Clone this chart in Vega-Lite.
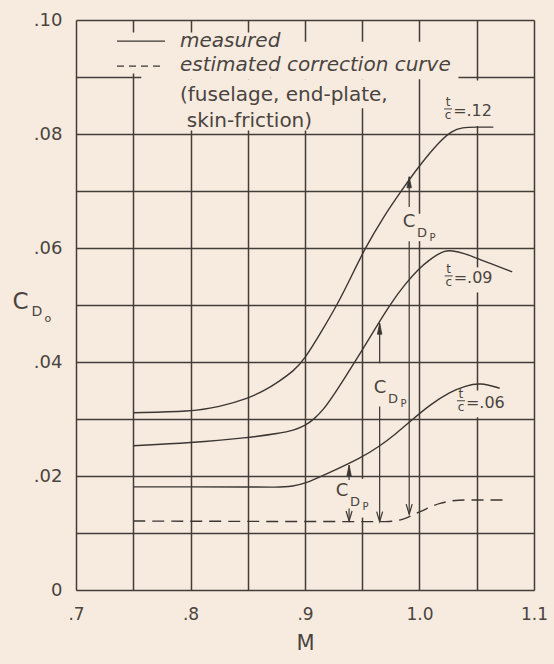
{
  "$schema": "https://vega.github.io/schema/vega-lite/v6.json",
  "width": 458,
  "height": 570,
  "autosize": {"type": "none"},
  "padding": {"left": 76, "top": 20, "right": 20, "bottom": 74},
  "background": "#f7ebdf",
  "config": {
    "view": {"stroke": null},
    "font": "DejaVu Sans",
    "text": {"color": "#4a4440", "font": "DejaVu Sans"}
  },
  "datasets": {
    "masks": [
      {"M": 0.744, "M2": 0.757, "C": 0.0906, "C2": 0.0978},
      {"M": 0.757, "M2": 0.87, "C": 0.0896, "C2": 0.0978},
      {"M": 0.87, "M2": 1.034, "C": 0.0896, "C2": 0.0962},
      {"M": 0.757, "M2": 0.93, "C": 0.0806, "C2": 0.0896},
      {"M": 0.93, "M2": 0.99, "C": 0.0845, "C2": 0.0896},
      {"M": 1.04, "M2": 1.06, "C": 0.0814, "C2": 0.0894},
      {"M": 1.045, "M2": 1.055, "C": 0.0522, "C2": 0.0566},
      {"M": 1.045, "M2": 1.055, "C": 0.0303, "C2": 0.035},
      {"M": 0.945, "M2": 0.955, "C": 0.0127, "C2": 0.0195},
      {"M": 0.996, "M2": 1.004, "C": 0.0612, "C2": 0.066}
    ],
    "curves": [
      {"series": "t/c=.12", "M": 0.75, "C": 0.0311},
      {"series": "t/c=.12", "M": 0.8, "C": 0.0313},
      {"series": "t/c=.12", "M": 0.825, "C": 0.0321},
      {"series": "t/c=.12", "M": 0.85, "C": 0.0336},
      {"series": "t/c=.12", "M": 0.865, "C": 0.035},
      {"series": "t/c=.12", "M": 0.878, "C": 0.0367},
      {"series": "t/c=.12", "M": 0.89, "C": 0.0384},
      {"series": "t/c=.12", "M": 0.9, "C": 0.0406},
      {"series": "t/c=.12", "M": 0.914, "C": 0.0452},
      {"series": "t/c=.12", "M": 0.928, "C": 0.05},
      {"series": "t/c=.12", "M": 0.94, "C": 0.0548},
      {"series": "t/c=.12", "M": 0.952, "C": 0.0598},
      {"series": "t/c=.12", "M": 0.968, "C": 0.0653},
      {"series": "t/c=.12", "M": 0.984, "C": 0.07},
      {"series": "t/c=.12", "M": 1.0, "C": 0.0745},
      {"series": "t/c=.12", "M": 1.018, "C": 0.0788},
      {"series": "t/c=.12", "M": 1.028, "C": 0.0805},
      {"series": "t/c=.12", "M": 1.037, "C": 0.0812},
      {"series": "t/c=.12", "M": 1.05, "C": 0.0812},
      {"series": "t/c=.12", "M": 1.0645, "C": 0.0812},
      {"series": "t/c=.09", "M": 0.75, "C": 0.0253},
      {"series": "t/c=.09", "M": 0.8, "C": 0.0258},
      {"series": "t/c=.09", "M": 0.85, "C": 0.0267},
      {"series": "t/c=.09", "M": 0.878, "C": 0.0275},
      {"series": "t/c=.09", "M": 0.89, "C": 0.028},
      {"series": "t/c=.09", "M": 0.9, "C": 0.0288},
      {"series": "t/c=.09", "M": 0.908, "C": 0.03},
      {"series": "t/c=.09", "M": 0.916, "C": 0.0316},
      {"series": "t/c=.09", "M": 0.925, "C": 0.0342},
      {"series": "t/c=.09", "M": 0.935, "C": 0.0373},
      {"series": "t/c=.09", "M": 0.95, "C": 0.0421},
      {"series": "t/c=.09", "M": 0.962, "C": 0.0461},
      {"series": "t/c=.09", "M": 0.974, "C": 0.05},
      {"series": "t/c=.09", "M": 0.987, "C": 0.0536},
      {"series": "t/c=.09", "M": 1.0, "C": 0.0565},
      {"series": "t/c=.09", "M": 1.008, "C": 0.0578},
      {"series": "t/c=.09", "M": 1.015, "C": 0.0588},
      {"series": "t/c=.09", "M": 1.022, "C": 0.0595},
      {"series": "t/c=.09", "M": 1.028, "C": 0.0596},
      {"series": "t/c=.09", "M": 1.04, "C": 0.059},
      {"series": "t/c=.09", "M": 1.05, "C": 0.0582},
      {"series": "t/c=.09", "M": 1.081, "C": 0.0558},
      {"series": "t/c=.06", "M": 0.75, "C": 0.0181},
      {"series": "t/c=.06", "M": 0.8, "C": 0.0181},
      {"series": "t/c=.06", "M": 0.85, "C": 0.0181},
      {"series": "t/c=.06", "M": 0.875, "C": 0.018},
      {"series": "t/c=.06", "M": 0.89, "C": 0.0182},
      {"series": "t/c=.06", "M": 0.9, "C": 0.0187},
      {"series": "t/c=.06", "M": 0.915, "C": 0.02},
      {"series": "t/c=.06", "M": 0.95, "C": 0.0233},
      {"series": "t/c=.06", "M": 0.965, "C": 0.0252},
      {"series": "t/c=.06", "M": 0.98, "C": 0.0275},
      {"series": "t/c=.06", "M": 0.992, "C": 0.0296},
      {"series": "t/c=.06", "M": 1.009, "C": 0.0325},
      {"series": "t/c=.06", "M": 1.027, "C": 0.0348},
      {"series": "t/c=.06", "M": 1.04, "C": 0.0358},
      {"series": "t/c=.06", "M": 1.053, "C": 0.0364},
      {"series": "t/c=.06", "M": 1.07, "C": 0.0354}
    ],
    "correction": [
      {"M": 0.75, "C": 0.0121},
      {"M": 0.97, "C": 0.012},
      {"M": 0.985, "C": 0.0124},
      {"M": 1.0, "C": 0.0137},
      {"M": 1.018, "C": 0.0152},
      {"M": 1.04, "C": 0.0158},
      {"M": 1.075, "C": 0.0158}
    ],
    "arrows": [
      {"M": 0.991, "C": 0.0725, "C2": 0.0672},
      {"M": 0.991, "C": 0.0612, "C2": 0.0133},
      {"M": 0.9652, "C": 0.0468, "C2": 0.0398},
      {"M": 0.9652, "C": 0.0322, "C2": 0.012},
      {"M": 0.9385, "C": 0.0219, "C2": 0.0193},
      {"M": 0.9385, "C": 0.0143, "C2": 0.0121}
    ],
    "headsUp": [
      {"M": 0.991, "C": 0.0725},
      {"M": 0.9652, "C": 0.0468},
      {"M": 0.9385, "C": 0.0219}
    ],
    "headsDown": [
      {"M": 0.991, "C": 0.0133},
      {"M": 0.9652, "C": 0.012},
      {"M": 0.9385, "C": 0.0121}
    ],
    "cdp": [
      {"M": 0.9908, "C": 0.0646},
      {"M": 0.9655, "C": 0.0355},
      {"M": 0.9323, "C": 0.0174}
    ],
    "cd0": [{"M": 0.6515, "C": 0.0506}],
    "tc": [
      {"M": 1.025, "C": 0.0844, "val": "=.12"},
      {"M": 1.0255, "C": 0.0551, "val": "=.09"},
      {"M": 1.0362, "C": 0.0332, "val": "=.06"}
    ],
    "legendSolid": [{"M": 0.7358, "M2": 0.7777, "C": 0.0963}],
    "legendDashed": [{"M": 0.7358, "M2": 0.7734, "C": 0.0919}],
    "legendItalic": [
      {"M": 0.7908, "C": 0.0963, "text": "measured"},
      {"M": 0.7908, "C": 0.0921, "text": "estimated correction curve"}
    ],
    "legendPlain": [
      {"M": 0.7908, "C": 0.0869, "text": "(fuselage, end-plate,"},
      {"M": 0.7967, "C": 0.0823, "text": "skin-friction)"}
    ]
  },
  "encoding": {
    "x": {
      "field": "M",
      "type": "quantitative",
      "scale": {"domain": [0.7, 1.1], "zero": false, "nice": false},
      "axis": {
        "values": [0.7, 0.75, 0.8, 0.85, 0.9, 0.95, 1.0, 1.05, 1.1],
        "labelExpr": "round(datum.value*100) % 10 != 0 ? '' : (datum.value < 0.95 ? '.' + round(datum.value*10) : format(datum.value, '.1f'))",
        "grid": true,
        "gridColor": "#433d3a",
        "gridWidth": 1.5,
        "gridOpacity": 1,
        "ticks": false,
        "domain": false,
        "title": "M",
        "labelPadding": 16,
        "titlePadding": 10,
        "labelFontSize": 17,
        "titleFontSize": 21,
        "titleFontWeight": "normal",
        "labelColor": "#4a4440",
        "titleColor": "#4a4440",
        "labelFlush": false,
        "labelOverlap": false
      }
    },
    "y": {
      "field": "C",
      "type": "quantitative",
      "scale": {"domain": [0, 0.1], "zero": false, "nice": false},
      "axis": {
        "values": [0, 0.01, 0.02, 0.03, 0.04, 0.05, 0.06, 0.07, 0.08, 0.09, 0.1],
        "labelExpr": "round(datum.value*100) % 2 != 0 ? '' : (datum.value == 0 ? '0' : (round(datum.value*100) < 10 ? '.0' + round(datum.value*100) : '.' + round(datum.value*100)))",
        "grid": true,
        "gridColor": "#433d3a",
        "gridWidth": 1.5,
        "gridOpacity": 1,
        "ticks": false,
        "domain": false,
        "title": null,
        "labelPadding": 14,
        "labelFontSize": 18,
        "labelColor": "#4a4440",
        "labelFlush": false,
        "labelOverlap": false
      }
    }
  },
  "layer": [
    {
      "data": {"name": "masks"},
      "mark": {"type": "rect", "fill": "#f7ebdf", "strokeWidth": 0},
      "encoding": {"x2": {"field": "M2"}, "y2": {"field": "C2"}}
    },
    {
      "data": {"name": "curves"},
      "mark": {"type": "line", "interpolate": "basis", "color": "#3b3633", "strokeWidth": 1.4},
      "encoding": {"detail": {"field": "series"}}
    },
    {
      "data": {"name": "correction"},
      "mark": {"type": "line", "interpolate": "monotone", "color": "#3b3633", "strokeWidth": 1.4, "strokeDash": [12, 7]},
      "encoding": {}
    },
    {
      "data": {"name": "arrows"},
      "mark": {"type": "rule", "color": "#3b3633", "strokeWidth": 1.2},
      "encoding": {"y2": {"field": "C2"}}
    },
    {
      "data": {"name": "headsUp"},
      "mark": {"type": "point", "shape": "M-0.45,2.2L0,0L0.45,2.2Z", "size": 100, "filled": true, "color": "#3b3633", "opacity": 1, "stroke": "#3b3633", "strokeWidth": 0.8}
    },
    {
      "data": {"name": "headsDown"},
      "mark": {"type": "point", "shape": "M-0.6,-2L0,0L0.6,-2", "size": 100, "filled": false, "color": "#3b3633", "opacity": 1, "strokeWidth": 1.2}
    },
    {
      "data": {"name": "legendSolid"},
      "mark": {"type": "rule", "color": "#3b3633", "strokeWidth": 1.4},
      "encoding": {"x2": {"field": "M2"}}
    },
    {
      "data": {"name": "legendDashed"},
      "mark": {"type": "rule", "color": "#3b3633", "strokeWidth": 1.4, "strokeDash": [7, 5]},
      "encoding": {"x2": {"field": "M2"}}
    },
    {
      "data": {"name": "legendItalic"},
      "mark": {"type": "text", "align": "left", "baseline": "middle", "fontSize": 20, "fontStyle": "italic"},
      "encoding": {"text": {"field": "text"}}
    },
    {
      "data": {"name": "legendPlain"},
      "mark": {"type": "text", "align": "left", "baseline": "middle", "fontSize": 20},
      "encoding": {"text": {"field": "text"}}
    },
    {
      "data": {"name": "cdp"},
      "mark": {"type": "text", "text": "C", "align": "center", "baseline": "middle", "fontSize": 18}
    },
    {
      "data": {"name": "cdp"},
      "mark": {"type": "text", "text": "D", "align": "center", "baseline": "middle", "fontSize": 13, "dx": 13, "dy": 11}
    },
    {
      "data": {"name": "cdp"},
      "mark": {"type": "text", "text": "P", "align": "center", "baseline": "middle", "fontSize": 10, "dx": 23.5, "dy": 16}
    },
    {
      "data": {"name": "cd0"},
      "mark": {"type": "text", "text": "C", "align": "center", "baseline": "middle", "fontSize": 23}
    },
    {
      "data": {"name": "cd0"},
      "mark": {"type": "text", "text": "D", "align": "center", "baseline": "middle", "fontSize": 14, "dx": 16.5, "dy": 10.5}
    },
    {
      "data": {"name": "cd0"},
      "mark": {"type": "text", "text": "o", "align": "center", "baseline": "middle", "fontSize": 11, "dx": 27.5, "dy": 17.5}
    },
    {
      "data": {"name": "tc"},
      "mark": {"type": "text", "text": "t", "align": "center", "baseline": "middle", "fontSize": 12, "dy": -6.5}
    },
    {
      "data": {"name": "tc"},
      "mark": {"type": "text", "text": "c", "align": "center", "baseline": "middle", "fontSize": 12, "dy": 6.5}
    },
    {
      "data": {"name": "tc"},
      "mark": {"type": "tick", "orient": "horizontal", "size": 8, "thickness": 1, "color": "#4a4440", "opacity": 1}
    },
    {
      "data": {"name": "tc"},
      "mark": {"type": "text", "align": "left", "baseline": "middle", "fontSize": 16, "dx": 5, "dy": 2},
      "encoding": {"text": {"field": "val"}}
    }
  ]
}
